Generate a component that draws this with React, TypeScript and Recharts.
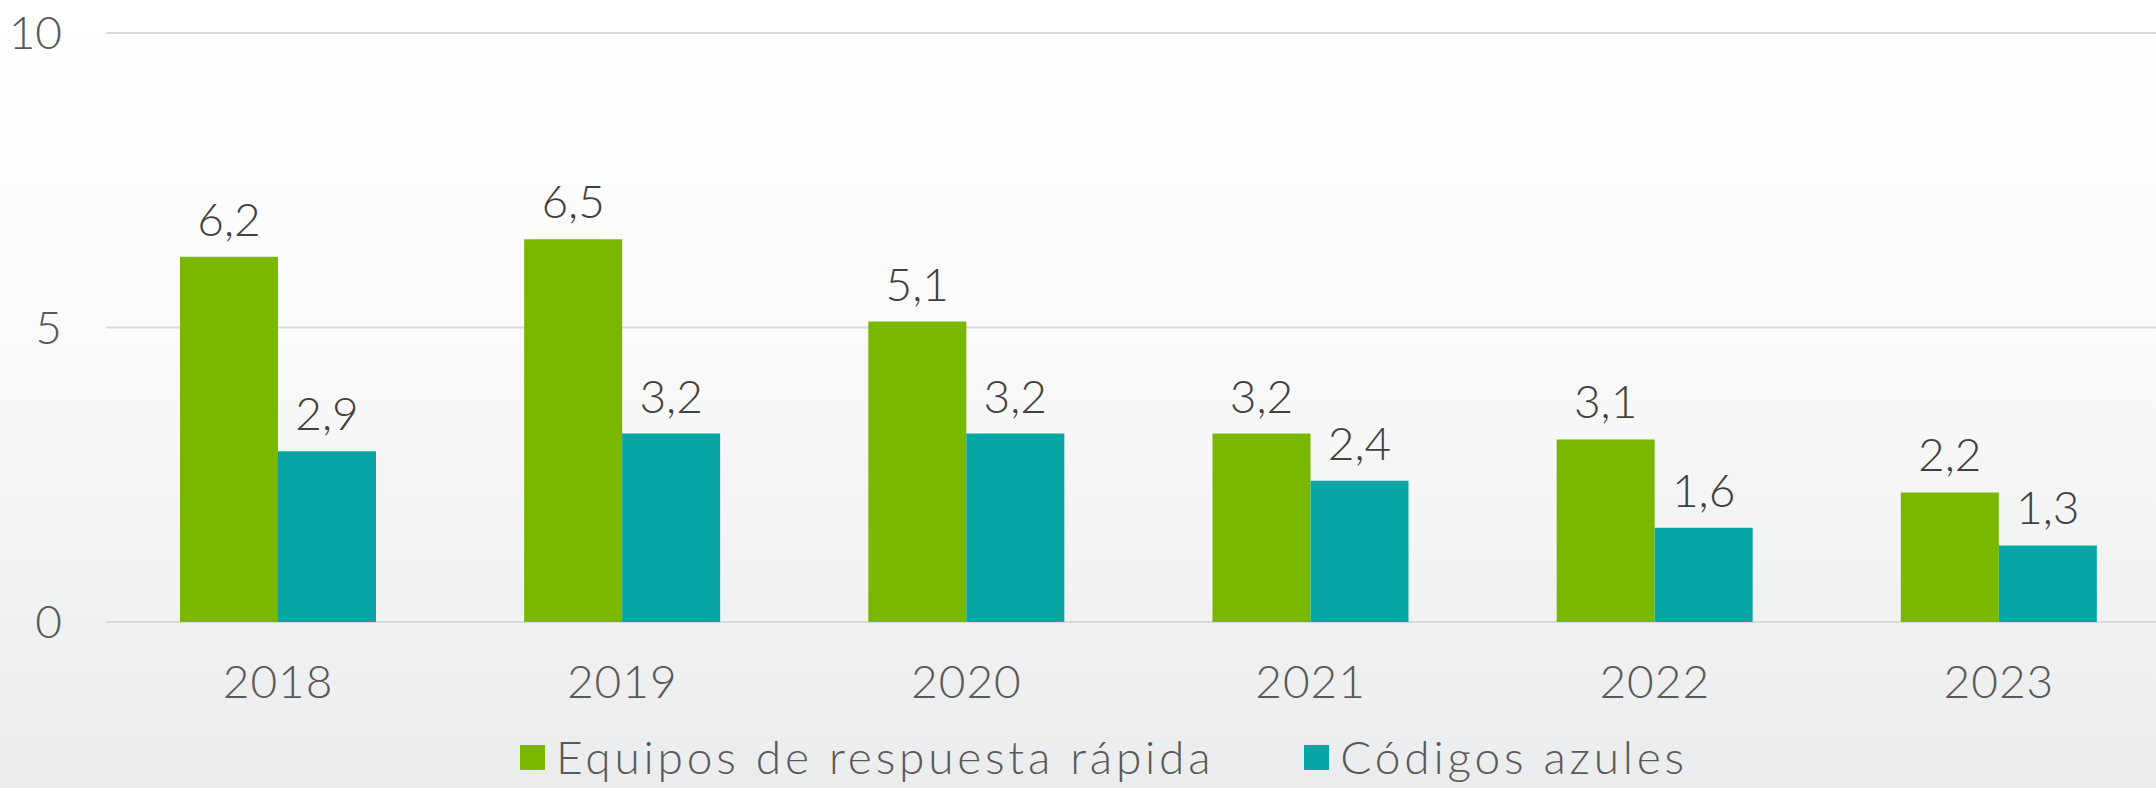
import React from "react";
import { BarChart, Bar, XAxis, YAxis, CartesianGrid, LabelList, Legend } from "recharts";

const years = ["2018", "2019", "2020", "2021", "2022", "2023"];
const equipos = [6.2, 6.5, 5.1, 3.2, 3.1, 2.2];
const codigos = [2.9, 3.2, 3.2, 2.4, 1.6, 1.3];
const yTicks = [0, 5, 10];
const seriesNames = ["Equipos de respuesta rápida", "Códigos azules"];
const colors = ["#7AB800", "#08A5A5"];

const data = years.map((y, i) => ({ year: y, equipos: equipos[i], codigos: codigos[i] }));

const FONT = "Lato, 'DejaVu Sans', sans-serif";

const fmt = (v: any) => String(v).replace(".", ",");

const LegendContent = () => (
  <div style={{ display: "flex", justifyContent: "center", alignItems: "center", fontFamily: FONT, fontWeight: 300, fontSize: 46, lineHeight: "50px", letterSpacing: 3.8, color: "#595959", width: 2156, paddingLeft: 52, boxSizing: "border-box" }}>
    {seriesNames.map((n, i) => (
      <div key={n} style={{ display: "flex", alignItems: "center", marginRight: i === 0 ? 90 : 0 }}>
        <div style={{ width: 25, height: 25, background: colors[i], marginRight: 11 }} />
        <span>{n}</span>
      </div>
    ))}
  </div>
);

export default function App() {
  return (
    <div
      style={{
        position: "absolute",
        left: 0,
        top: 0,
        width: 2156,
        height: 788,
        overflow: "hidden",
        background: "linear-gradient(to bottom, #ffffff 0%, #fbfbfb 40%, #ebeced 100%)",
      }}
    >
      <BarChart
        width={2171}
        height={788}
        data={data}
        margin={{ top: 33, right: 0, bottom: 0, left: 0 }}
        barCategoryGap="21.5%"
        barGap={0}
      >
        <CartesianGrid vertical={false} stroke="#d9d9d9" strokeWidth={2} />
        <XAxis
          dataKey="year"
          height={166}
          axisLine={false}
          tickLine={false}
          tickSize={0}
          tickMargin={43}
          tick={{ fill: "#595959", fontSize: 46, fontFamily: FONT, fontWeight: 300, letterSpacing: 1 }}
        />
        <YAxis
          width={106}
          domain={[0, 10]}
          ticks={yTicks}
          axisLine={false}
          tickLine={false}
          tickSize={0}
          tickMargin={44}
          tick={{ fill: "#595959", fontSize: 46, fontFamily: FONT, fontWeight: 300 }}
        />
        <Legend
          layout="horizontal"
          verticalAlign="middle"
          align="center"
          wrapperStyle={{ top: 732, left: 0, width: 2156 }}
          content={LegendContent}
        />
        <Bar dataKey="equipos" name={seriesNames[0]} fill={colors[0]} isAnimationActive={false}>
          <LabelList dataKey="equipos" position="top" offset={21} formatter={fmt} fill="#404040" fontSize={46} fontFamily={FONT} fontWeight={300} />
        </Bar>
        <Bar dataKey="codigos" name={seriesNames[1]} fill={colors[1]} isAnimationActive={false}>
          <LabelList dataKey="codigos" position="top" offset={21} formatter={fmt} fill="#404040" fontSize={46} fontFamily={FONT} fontWeight={300} />
        </Bar>
      </BarChart>
    </div>
  );
}
